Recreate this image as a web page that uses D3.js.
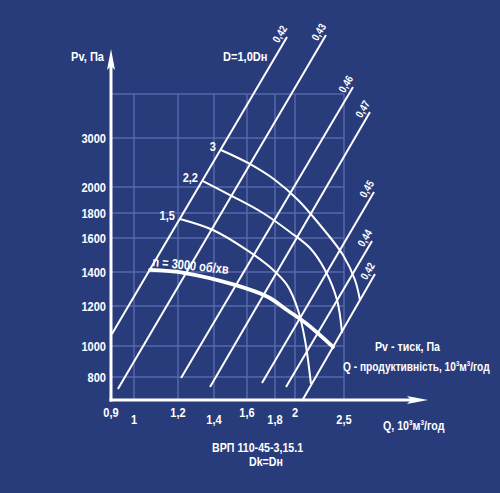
<!DOCTYPE html>
<html><head><meta charset="utf-8">
<script src="https://cdn.jsdelivr.net/npm/d3@7"></script>
<style>
html,body{margin:0;padding:0;background:#283b7b;}
svg{display:block;}
text{font-family:"Liberation Sans",Arial,sans-serif;font-weight:bold;fill:#fff;}
</style></head><body>
<svg id="c" width="500" height="493"></svg>
<script>
// ---- data ----
const xTicks = [0.9, 1, 1.2, 1.4, 1.6, 1.8, 2, 2.5];
const xTickLabels = ["0,9", "1", "1,2", "1,4", "1,6", "1,8", "2", "2,5"];
const yTicks = [800, 1000, 1200, 1400, 1600, 1800, 2000, 3000];
const yTickLabels = ["800", "1000", "1200", "1400", "1600", "1800", "2000", "3000"];
const yGrid = [800, 1000, 1200, 1400, 1600, 1800, 2000, 3000, 4000];
const xGrid = [1, 1.2, 1.4, 1.6, 1.8, 2, 2.5];

// efficiency lines (straight), start/end in (Q, Pv)
const effLabels = ["0,42", "0,43", "0,46", "0,47", "0,45", "0,44", "0,42"];
const effQStart = [0.904, 0.930, 1.217, 1.378, 1.707, 1.91, 2.071];
const effPStart = [1060, 723, 794, 735, 761, 735, 645];
const effQEnd = [1.92, 2.316, 2.592, 2.765, 2.806, 2.786, 2.816];
const effPEnd = [5295, 5341, 4159, 3591, 1962, 1582, 1388];

// power curves (kW)
const powerLabels = ["1,5", "2,2", "3"];
const power15Q = [1.211, 1.394, 1.6, 1.764, 1.92, 2.031, 2.102, 2.163];
const power15P = [1752, 1664, 1529, 1429, 1324, 1180, 1030, 755];
const power22Q = [1.339, 1.497, 1.714, 1.95, 2.153, 2.306, 2.429, 2.48];
const power22P = [2122, 1938, 1800, 1648, 1541, 1412, 1235, 1065];
const power3Q = [1.442, 1.607, 1.8, 2.031, 2.255, 2.49, 2.612, 2.663];
const power3P = [2755, 2490, 2143, 1900, 1704, 1500, 1353, 1235];

// fan curve
const speedLabel = "n = 3000 об/хв";
const speedQ = [1.0727, 1.239, 1.527, 1.75, 1.92, 2.122, 2.388];
const speedP = [1412, 1394, 1324, 1253, 1180, 1110, 994];

// ---- layout ----
const X_PX = [111, 134, 178, 214, 247, 275, 295, 344];
const Y_PX = [377, 346, 306, 272, 238, 213, 187, 138, 94];
const AXIS_Y = 400, AXIS_X = 111;
const WHITE = "#ffffff", GRID = "#5668ad";
const SX = 0.82; // condensed text

const svg = d3.select("#c");
const x = d3.scaleLinear().domain(xTicks).range(X_PX);
const y = d3.scaleLinear().domain(yGrid).range(Y_PX);

function addText(px, py, size, anchor, rot) {
  const gg = svg.append("g").attr("transform", `translate(${px},${py}) rotate(${rot || 0}) scale(${SX},1)`);
  return gg.append("text").attr("text-anchor", anchor || "start").attr("font-size", size);
}
function sup(t, parts, size) {
  parts.forEach(p => {
    if (p.sup) t.append("tspan").attr("font-size", size * 0.6).attr("dy", -5).text(p.s);
    else t.append("tspan").attr("dy", p.back ? 5 : 0).text(p.s);
  });
}

// grid
const g = svg.append("g");
g.selectAll("line.h").data(yGrid).join("line")
  .attr("x1", AXIS_X).attr("x2", x(2.5))
  .attr("y1", d => y(d)).attr("y2", d => y(d))
  .attr("stroke", GRID).attr("stroke-width", 1.5);
g.selectAll("line.v").data(xGrid).join("line")
  .attr("x1", d => x(d)).attr("x2", d => x(d))
  .attr("y1", y(4000)).attr("y2", AXIS_Y)
  .attr("stroke", GRID).attr("stroke-width", 1.5);

// efficiency lines
const effData = effLabels.map((l, i) => ({label: l, p: [[effQStart[i], effPStart[i]], [effQEnd[i], effPEnd[i]]]}));
const line = d3.line().x(d => x(d[0])).y(d => y(d[1]));
svg.selectAll("path.eff").data(effData).join("path")
  .attr("d", d => line(d.p)).attr("fill", "none")
  .attr("stroke", WHITE).attr("stroke-width", 2);
effData.forEach(d => {
  const sx = x(d.p[0][0]), sy = y(d.p[0][1]), ex = x(d.p[1][0]), ey = y(d.p[1][1]);
  const a = Math.atan2(ey - sy, ex - sx) * 180 / Math.PI;
  svg.append("text")
    .attr("transform", `translate(${ex},${ey}) rotate(${a}) scale(${SX},1)`)
    .attr("x", -12).attr("y", -4)
    .attr("font-size", 11).text(d.label);
});

// power curves
const curveLine = d3.line().x(d => x(d[0])).y(d => y(d[1])).curve(d3.curveCatmullRom.alpha(0.5));
const powerData = [
  {label: powerLabels[0], p: power15Q.map((q, i) => [q, power15P[i]])},
  {label: powerLabels[1], p: power22Q.map((q, i) => [q, power22P[i]])},
  {label: powerLabels[2], p: power3Q.map((q, i) => [q, power3P[i]])}
];
svg.selectAll("path.pow").data(powerData).join("path")
  .attr("d", d => curveLine(d.p)).attr("fill", "none")
  .attr("stroke", WHITE).attr("stroke-width", 2);
powerData.forEach(d => {
  addText(x(d.p[0][0]) - 5, y(d.p[0][1]) + 1, 13.5, "end").text(d.label);
});

// fan curve
const speedPts = speedQ.map((q, i) => [q, speedP[i]]);
svg.append("path").attr("d", curveLine(speedPts)).attr("fill", "none")
  .attr("stroke", WHITE).attr("stroke-width", 3.8).attr("stroke-linecap", "round");
addText(x(speedQ[0]) + 2, y(speedP[0]) - 4, 13.5, "start", 6).text(speedLabel);

// axes
svg.append("line").attr("x1", AXIS_X).attr("x2", AXIS_X).attr("y1", AXIS_Y + 1.5).attr("y2", 66)
  .attr("stroke", WHITE).attr("stroke-width", 3);
svg.append("path").attr("d", `M${AXIS_X},49 L${AXIS_X + 4},70 L${AXIS_X},66 L${AXIS_X - 4},70 Z`).attr("fill", WHITE);
svg.append("line").attr("x1", AXIS_X - 1.5).attr("x2", 412).attr("y1", AXIS_Y).attr("y2", AXIS_Y)
  .attr("stroke", WHITE).attr("stroke-width", 3);
svg.append("path").attr("d", `M428,${AXIS_Y} L407,${AXIS_Y - 4} L411,${AXIS_Y} L407,${AXIS_Y + 4} Z`).attr("fill", WHITE);

// tick labels
yTicks.forEach((d, i) => addText(AXIS_X - 5, y(d) + 5, 13.5, "end").text(yTickLabels[i]));
xTicks.forEach((d, i) => addText(x(d), AXIS_Y + (i % 2 ? 24 : 17), 13.5, "middle").text(xTickLabels[i]));

// titles
addText(104, 61, 13.5, "end").text("Pv, Па");
sup(addText(383, 430, 13, "start"), [{s: "Q, 10"}, {s: "3", sup: 1}, {s: "м", back: 1}, {s: "3", sup: 1}, {s: "/год", back: 1}], 13);
addText(223, 61, 13.5, "start").text("D=1,0Dн");
addText(375, 351, 13, "start").text("Pv - тиск, Па");
sup(addText(343, 371, 12.4, "start"), [{s: "Q - продуктивність, 10"}, {s: "3", sup: 1}, {s: "м", back: 1}, {s: "3", sup: 1}, {s: "/год", back: 1}], 12.4);
addText(212, 452, 13, "start").text("ВРП 110-45-3,15.1");
addText(249, 466, 13, "start").text("Dk=Dн");
</script>
</body></html>
